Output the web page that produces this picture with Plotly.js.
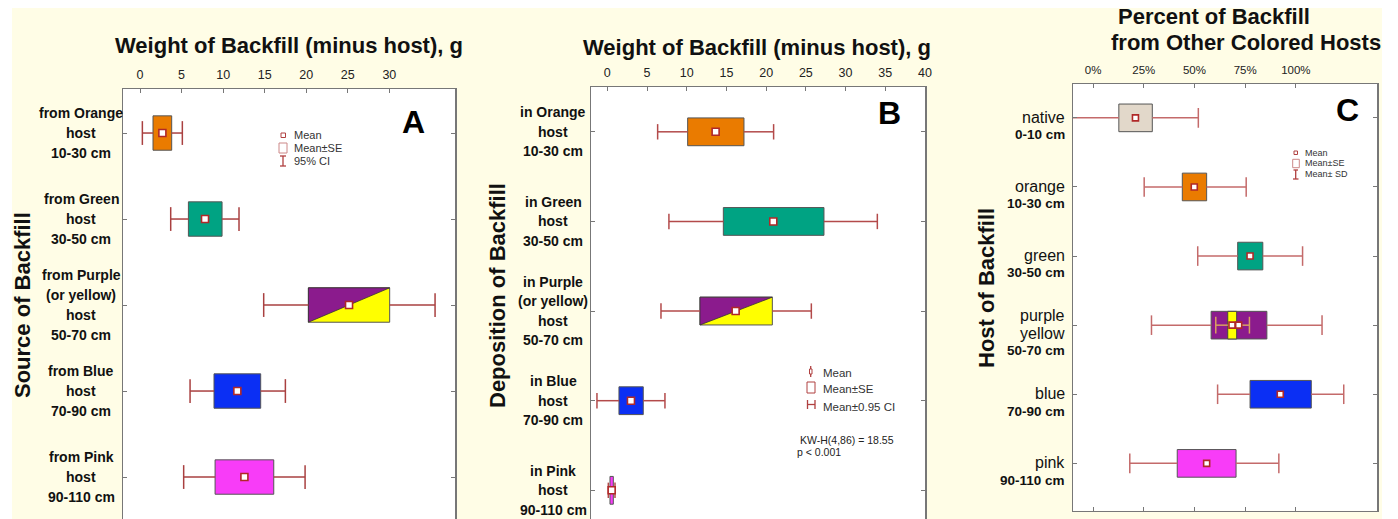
<!DOCTYPE html>
<html>
<head>
<meta charset="utf-8">
<script src="https://cdn.plot.ly/plotly-3.0.1.min.js"></script>
<style>html,body{margin:0;padding:0;background:#fff;overflow:hidden}#chart{width:1398px;height:519px}</style>
</head>
<body>
<div id="chart"></div>
<script>
// ---------- Panel A: Source of backfill ----------
const labelsA = [['from Orange','host','10-30 cm'],['from Green','host','30-50 cm'],['from Purple','(or yellow)','host','50-70 cm'],['from Blue','host','70-90 cm'],['from Pink','host','90-110 cm']];
const aMean = [2.69, 7.82, 25.15, 11.71, 12.56];
const aSeLo = [1.56, 5.82, 20.26, 8.90, 9.03];
const aSeHi = [3.81, 9.87, 30.04, 14.52, 16.09];
const aCiLo = [0.28, 3.69, 14.88, 6.02, 5.25];
const aCiHi = [5.09, 11.91, 35.50, 17.49, 19.86];
const ticksA = [0, 5, 10, 15, 20, 25, 30];

// ---------- Panel B: Deposition of backfill ----------
const labelsB = [['in Orange','host','10-30 cm'],['in Green','host','30-50 cm'],['in Purple','(or yellow)','host','50-70 cm'],['in Blue','host','70-90 cm'],['in Pink','host','90-110 cm']];
const bMean = [13.64, 20.90, 16.16, 2.98, 0.55];
const bSeLo = [10.12, 14.61, 11.67, 1.47, 0.34];
const bSeHi = [17.21, 27.28, 20.78, 4.53, 0.76];
const bCiLo = [6.34, 7.76, 6.76, -1.30, 0.13];
const bCiHi = [20.94, 34.00, 25.69, 7.26, 0.97];
const ticksB = [0, 5, 10, 15, 20, 25, 30, 35, 40];

// ---------- Panel C: Percent of backfill from other hosts ----------
const labelsC = [['native','0-10 cm'],['orange','10-30 cm'],['green','30-50 cm'],['purple','yellow','50-70 cm'],['blue','70-90 cm'],['pink','90-110 cm']];
const cMean = [20.9, 49.9, 77.4, 71.8, 92.3, 56.0];
const cSeLo = [12.7, 44.0, 71.3, 58.2, 77.4, 41.5];
const cSeHi = [29.2, 56.0, 83.7, 85.7, 107.6, 70.5];
const cSdLo = [-15.0, 25.2, 51.6, 28.8, 61.4, 18.1];
const cSdHi = [51.9, 75.5, 103.3, 112.9, 123.6, 91.6];
const yellowRow = [3];
const yMean = [68.5];
const ySeLo = [66.4];
const ySeHi = [70.8];
const ySdLo = [60.5];
const ySdHi = [77.1];
const ticksC = [0, 25, 50, 75, 100];
const tickTextC = ['0%', '25%', '50%', '75%', '100%'];

// ---------- colours ----------
const colorsAB = ['#ea7b00', '#00a383', '#ffff00', '#0b2ff4', '#f83cf8'];
const colorsC = ['#e2d8ca', '#ea7b00', '#00a383', '#8b1b8d', '#0b2ff4', '#f83cf8'];
const purple = '#8b1b8d';
const yellow = '#ffff00';

const W = 1398, H = 519;
const FONT = 'Arial, "Liberation Sans", sans-serif';
const px = x => x / W;
const py = y => 1 - y / H;

const traces = [];
function addPanel(xa, ya, mean, seLo, seHi, lo, hi, colors, width, capSize, wColor, split) {
  const idx = mean.map((_, i) => i);
  traces.push({type: 'bar', orientation: 'h', xaxis: xa, yaxis: ya, y: idx,
    base: seLo, x: seHi.map((v, i) => v - seLo[i]), width: width,
    marker: {color: colors, line: {color: '#555', width: 1}}, hoverinfo: 'skip', showlegend: false});
  if (split !== null) {
    const i = split, h = width / 2;
    traces.push({type: 'scatter', mode: 'lines', xaxis: xa, yaxis: ya,
      x: [seLo[i], seLo[i], seHi[i], seLo[i]], y: [i + h, i - h, i - h, i + h],
      fill: 'toself', fillcolor: purple, line: {color: '#333', width: 0.8}, hoverinfo: 'skip', showlegend: false});
  }
  const wx = [], wy = [];
  idx.forEach(i => { wx.push(lo[i], seLo[i], null, seHi[i], hi[i], null); wy.push(i, i, null, i, i, null); });
  traces.push({type: 'scatter', mode: 'lines', xaxis: xa, yaxis: ya, x: wx, y: wy,
    line: {color: wColor, width: 1.5}, hoverinfo: 'skip', showlegend: false});
  traces.push({type: 'scatter', mode: 'markers', xaxis: xa, yaxis: ya,
    x: lo.concat(hi), y: idx.concat(idx),
    marker: {symbol: 'line-ns', size: capSize, line: {color: wColor, width: 1.5}}, hoverinfo: 'skip', showlegend: false});
}
function addMeans(xa, ya, mean, rows, size) {
  traces.push({type: 'scatter', mode: 'markers', xaxis: xa, yaxis: ya, x: mean, y: rows,
    marker: {symbol: 'square', size: size, color: '#fff', line: {color: '#b02828', width: 1.6}}, hoverinfo: 'skip', showlegend: false});
}

addPanel('x', 'y', aMean, aSeLo, aSeHi, aCiLo, aCiHi, colorsAB, 0.4, 17, '#a94040', 2);
addMeans('x', 'y', aMean, aMean.map((_, i) => i), 7);
addPanel('x2', 'y2', bMean, bSeLo, bSeHi, bCiLo, bCiHi, colorsAB, 0.31, 11, '#b34a4a', 2);
addMeans('x2', 'y2', bMean, bMean.map((_, i) => i), 7);
addPanel('x3', 'y3', cMean, cSeLo, cSeHi, cSdLo, cSdHi, colorsC, 0.4, 14, '#c46a6a', null);
// yellow inset in the purple/yellow row
traces.push({type: 'bar', orientation: 'h', xaxis: 'x3', yaxis: 'y3', y: yellowRow, base: ySeLo,
  x: ySeHi.map((v, i) => v - ySeLo[i]), width: 0.4, marker: {color: yellow, line: {color: '#444', width: 1}},
  hoverinfo: 'skip', showlegend: false});
{
  const wx = [], wy = [];
  yellowRow.forEach((r, i) => { wx.push(ySdLo[i], ySeLo[i], null, ySeHi[i], ySdHi[i], null); wy.push(r, r, null, r, r, null); });
  traces.push({type: 'scatter', mode: 'lines', xaxis: 'x3', yaxis: 'y3', x: wx, y: wy,
    line: {color: '#d9a060', width: 1.5}, hoverinfo: 'skip', showlegend: false});
  traces.push({type: 'scatter', mode: 'markers', xaxis: 'x3', yaxis: 'y3', x: ySdLo.concat(ySdHi), y: yellowRow.concat(yellowRow),
    marker: {symbol: 'line-ns', size: 12, line: {color: '#d9a060', width: 1.5}}, hoverinfo: 'skip', showlegend: false});
}
addMeans('x3', 'y3', cMean, cMean.map((_, i) => i), 6);
addMeans('x3', 'y3', yMean, yellowRow, 6);

// ---------- axes ----------
const axLine = '#777';
function xAxis(domain, range, tickvals, ticktext, mirror, fs) {
  const a = {domain: domain, range: range, side: 'top', tickvals: tickvals, showline: true, linecolor: axLine, linewidth: 1.5,
    ticks: 'inside', ticklen: 4, tickcolor: axLine, showgrid: false, zeroline: false, mirror: mirror,
    tickfont: {family: FONT, size: fs, color: '#222'}, ticklabelstandoff: 4, fixedrange: true};
  if (ticktext) a.ticktext = ticktext;
  return a;
}
function yAxis(domain, range, n, anchor) {
  return {domain: domain, range: range, anchor: anchor, tickvals: Array.from({length: n}, (_, i) => i), showticklabels: false,
    ticks: 'inside', ticklen: 4, tickcolor: axLine, showline: true, linecolor: axLine, linewidth: 1.5, mirror: 'ticks',
    showgrid: false, zeroline: false, fixedrange: true};
}
const domA = [px(123), px(455)], domB = [px(591), px(925)], domC = [px(1073), px(1377)];
const layout = {
  width: W, height: H, margin: {l: 0, r: 0, t: 0, b: 0}, paper_bgcolor: '#fff', plot_bgcolor: 'rgba(0,0,0,0)',
  barmode: 'overlay', hovermode: false, showlegend: false,
  xaxis: Object.assign(xAxis(domA, [-2.05, 37.9], ticksA, null, false, 12.5), {anchor: 'y'}),
  yaxis: yAxis([0, py(89)], [4.488, -0.512], labelsA.length, 'x'),
  xaxis2: Object.assign(xAxis(domB, [-2.05, 40], ticksB, null, false, 12.5), {anchor: 'y2'}),
  yaxis2: yAxis([0, py(87)], [4.32, -0.5], labelsB.length, 'x2'),
  xaxis3: Object.assign(xAxis(domC, [-9.9, 140], ticksC, tickTextC, 'ticks', 11.5), {anchor: 'y3'}),
  yaxis3: yAxis([py(510.7), py(84)], [5.685, -0.49], labelsC.length, 'x3'),
  shapes: [], annotations: []
};
const S = layout.shapes, A = layout.annotations;
// background
S.push({type: 'rect', xref: 'paper', yref: 'paper', x0: px(12), x1: px(1382), y0: 0, y1: py(8), fillcolor: '#fffde6', line: {width: 0}, layer: 'below'});
[[domA, [0, py(89)]], [domB, [0, py(87)]], [domC, [py(510.7), py(84)]]].forEach(d => {
  S.push({type: 'rect', xref: 'paper', yref: 'paper', x0: d[0][0], x1: d[0][1], y0: d[1][0], y1: d[1][1], fillcolor: '#fff', line: {width: 0}, layer: 'below'});
});

function txt(text, x, y, size, opts) {
  A.push(Object.assign({text: text, xref: 'paper', yref: 'paper', x: px(x), y: py(y), showarrow: false,
    xanchor: 'center', yanchor: 'middle', font: {family: FONT, size: size, color: '#111'}}, opts || {}));
}
// titles
txt('<b>Weight of Backfill (minus host), g</b>', 289, 45, 22);
txt('<b>Weight of Backfill (minus host), g</b>', 757, 47, 22);
txt('<b>Percent of Backfill</b>', 1214, 17, 22);
txt('<b>from Other Colored Hosts</b>', 1246, 43, 22);
txt('<b>Source of Backfill</b>', 22, 305, 22, {textangle: -90});
txt('<b>Deposition of Backfill</b>', 497, 296, 22, {textangle: -90});
txt('<b>Host of Backfill</b>', 987, 288, 22, {textangle: -90});
txt('<b>A</b>', 413, 122, 32, {font: {family: FONT, size: 32, color: '#000'}});
txt('<b>B</b>', 889, 113, 32, {font: {family: FONT, size: 32, color: '#000'}});
txt('<b>C</b>', 1347, 110, 32, {font: {family: FONT, size: 32, color: '#000'}});

// category labels
function catLabels(labels, yref, xc, spacing, anchor, lastBold, center, size, boldAll, lastSize) {
  labels.forEach((lines, i) => {
    const n = lines.length;
    lines.forEach((ln, j) => {
      const off = center + (j - (n - 1) / 2) * spacing;
      const isLast = j === n - 1;
      const bold = boldAll || (lastBold && isLast);
      A.push({text: bold ? '<b>' + ln + '</b>' : ln, xref: 'paper', yref: yref, x: px(xc), y: i, yshift: -off,
        showarrow: false, xanchor: anchor, yanchor: 'middle',
        font: {family: FONT, size: (isLast && lastSize) ? lastSize : size, color: '#111'}});
    });
  });
}
catLabels(labelsA, 'y', 81, 20, 'center', false, 0, 14, true);
catLabels(labelsB, 'y2', 553, 19.6, 'center', false, 0, 14, true);
catLabels(labelsC, 'y3', 1067, 17.5, 'right', true, 8, 16, false, 13.5);

// legends
const lg = '#b04040';
function leg(text, x, y, size) { txt(text, x, y, size, {xanchor: 'left', font: {family: FONT, size: size, color: '#333'}}); }
function rect(x0, y0, x1, y1, color, fill) { S.push({type: 'rect', xref: 'paper', yref: 'paper', x0: px(x0), x1: px(x1), y0: py(y1), y1: py(y0), line: {color: color, width: 1}, fillcolor: fill || 'rgba(0,0,0,0)'}); }
function line(x0, y0, x1, y1, color) { S.push({type: 'line', xref: 'paper', yref: 'paper', x0: px(x0), x1: px(x1), y0: py(y0), y1: py(y1), line: {color: color, width: 1.3}}); }
// A
rect(281, 133, 285.5, 137.5, lg, '#fff'); leg('Mean', 292, 135, 11);
rect(279, 143, 287, 153, '#c88'); leg('Mean±SE', 292, 148, 11);
line(283, 156, 283, 166, lg); line(280, 156, 286, 156, lg); line(280, 166, 286, 166, lg); leg('95% CI', 292, 161, 11);
// B
line(810.7, 366, 810.7, 377, lg); rect(809.5, 369, 812, 374, lg, '#fff'); leg('Mean', 820.5, 373, 11.5);
rect(807, 382, 815, 393, lg); leg('Mean±SE', 820.5, 389, 11.5);
line(807.5, 400, 807.5, 409, lg); line(815, 400, 815, 409, lg); line(807.5, 404.5, 815, 404.5, lg); leg('Mean±0.95 CI', 820.5, 407, 11.5);
txt('KW-H(4,86) = 18.55', 798, 440, 10.5, {xanchor: 'left', font: {family: FONT, size: 10.5, color: '#222'}});
txt('p < 0.001', 795, 452, 10.5, {xanchor: 'left', font: {family: FONT, size: 10.5, color: '#222'}});
// C
rect(1294, 151, 1297.5, 154.5, lg, '#fff'); leg('Mean', 1302.5, 152.7, 9);
rect(1292.7, 159.3, 1299.3, 167.7, '#c88'); leg('Mean±SE', 1302.5, 163.3, 9);
line(1295.7, 170, 1295.7, 179, lg); line(1293, 179, 1298.5, 179, lg); line(1293.5, 170, 1298, 170, lg); leg('Mean± SD', 1302.5, 174, 9);

Plotly.newPlot('chart', traces, layout, {staticPlot: true, displayModeBar: false});
</script>
</body>
</html>
